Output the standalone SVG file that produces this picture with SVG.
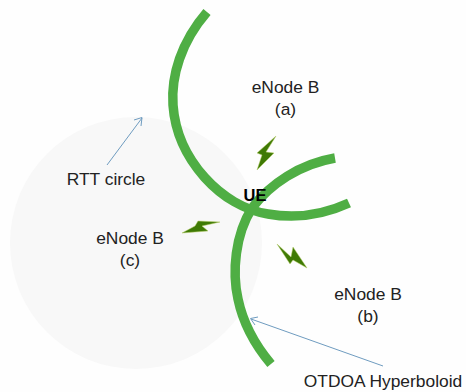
<svg xmlns="http://www.w3.org/2000/svg" width="466" height="392" viewBox="0 0 466 392">
<style>
.t{font-family:"Liberation Sans",Arial,sans-serif;font-size:17.400px;fill:#222;text-anchor:middle}
.g{fill:none;stroke:#4fae44;stroke-width:9.500}
.l{fill:none;stroke:#6f9cc0;stroke-width:1}
.b{fill:#3f7a05;stroke:#b8cf6a;stroke-width:.5}
</style>
<rect width="466" height="392" fill="#fefefe"/>
<g id="rtt-circle"><circle cx="136" cy="243" r="126" fill="#f8f8f8"/></g>
<g id="connectors">
<path class="g" d="M207 12C181 42 171 76 173 105C177 160 222 207 268 214C296 219 325 214 349 203"/>
<path class="g" d="M335 158C300 164 270 184 252 208C235 235 232 272 238 299C243 323 255 345 271 364"/>
<path class="l" d="M107 165L142 118M134 120L142 117.500L141 126"/>
<path class="l" d="M383 366L251 319M258 317L250.500 318.500L255 325"/>
</g>
<g id="bolt-a"><polygon class="b" points="276,136 266,152 274,153 257,170 262,155 257,153"/></g>
<g id="bolt-b"><polygon class="b" points="277,244 291,257 293,247 307,268 293,260 290,264"/></g>
<g id="bolt-c"><polygon class="b" points="220,222 202,226 208,231 182,233 195,226 198,221"/></g>
<g id="node-a"><text class="t" x="285.500" y="93">eNode B</text><text class="t" x="285.500" y="115">(a)</text></g>
<g id="node-b"><text class="t" x="368" y="300">eNode B</text><text class="t" x="368" y="322">(b)</text></g>
<g id="node-c"><text class="t" x="130" y="244">eNode B</text><text class="t" x="130" y="266">(c)</text></g>
<g id="ue"><text class="t" x="255" y="201" style="font-weight:bold;fill:#000;font-size:16.500px">UE</text></g>
<g id="label-rtt"><text class="t" x="106" y="185">RTT circle</text></g>
<g id="label-otdoa"><text class="t" x="383" y="387">OTDOA Hyperboloid</text></g>
</svg>
